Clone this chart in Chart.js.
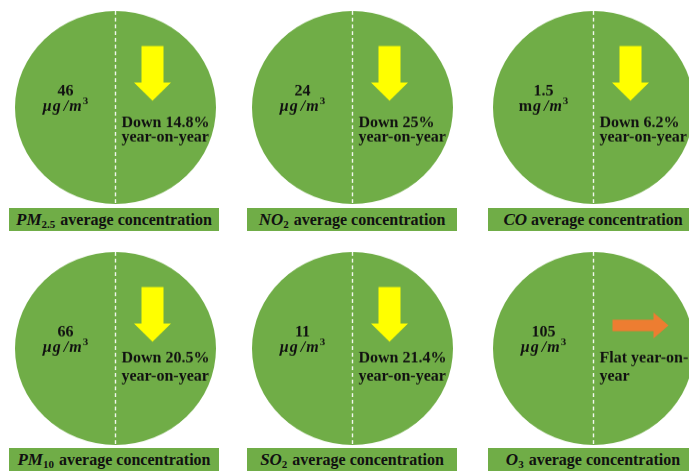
<!DOCTYPE html>
<html>
<head>
<meta charset="utf-8">
<script src="https://cdn.jsdelivr.net/npm/chart.js@4/dist/chart.umd.min.js"></script>
<style>
  html, body { margin:0; padding:0; background:#fff; }
  #stage { position:relative; width:689px; height:474px; overflow:hidden; background:#fff; }
  .cell { position:absolute; width:201px; height:201px; transform-origin:0 0; transform:scaleY(0.96); }
  .cell canvas { display:block; }
  .bar { position:absolute; width:210px; height:23px; background:#70AD47; color:#111;
         font-family:"Liberation Serif","Times New Roman",serif; font-weight:bold; font-size:16px;
         text-align:center; line-height:23px; white-space:nowrap; }
  .bar i { font-style:italic; font-size:17px; }
  .bar sub { font-size:11px; vertical-align:-3px; line-height:0; margin-right:1px; }
</style>
</head>
<body>
<div id="stage"></div>
<script>
// ---- data ----
const pollutantNames = ['PM', 'NO', 'CO', 'PM', 'SO', 'O'];
const pollutantSubs  = ['2.5', '2', '', '10', '2', '3'];
const concentrations = [46, 24, 1.5, 66, 11, 105];
const unitPrefixes   = ['μ', 'μ', 'm', 'μ', 'μ', 'μ'];   // μg/m³ or mg/m³
const yoyChanges     = [-14.8, -25, -6.2, -20.5, -21.4, 0]; // % year-on-year
const barSuffix = ' average concentration';

// ---- layout (not data) ----
const colLefts = [15, 252, 493];
const rowTops = [11, 252];
const barLefts = [9, 247, 488];
const barTops = [208, 448];
const rowTextOffsets = [[16.5, 31], [10.5, 29]];

const stage = document.getElementById('stage');
const GREEN = '#70AD47';
const FONT = '"Liberation Serif","Times New Roman",serif';

const panelPlugin = {
  id: 'panel',
  afterDraw(chart, args, opts) {
    const arc = chart.getDatasetMeta(0).data[0];
    const cx = arc.x, cy = arc.y, r = arc.outerRadius;
    const ctx = chart.ctx;
    const i = opts.index;
    ctx.save();
    // dashed divider
    ctx.strokeStyle = 'rgba(255,255,255,0.9)';
    ctx.lineWidth = 1.4;
    ctx.setLineDash([4, 3]);
    ctx.beginPath();
    ctx.moveTo(cx, cy - r);
    ctx.lineTo(cx, cy + r);
    ctx.stroke();
    ctx.setLineDash([]);

    // left: value + unit
    ctx.fillStyle = '#111';
    ctx.textAlign = 'center';
    ctx.textBaseline = 'middle';
    ctx.font = 'bold 16px ' + FONT;
    ctx.fillText(String(concentrations[i]), cx - 50, cy - 16.5);
    // unit pieces
    const pre = unitPrefixes[i];
    const preFont = (pre === 'm' ? 'bold 16px ' : 'italic bold 16px ') + FONT;
    const itFont = 'italic bold 16px ' + FONT;
    const supFont = 'bold 11px ' + FONT;
    const pieces = [
      [pre, preFont, 1], ['g', itFont, 3], ['/', itFont, 1], ['m', itFont, 1], ['3', supFont, 0]
    ];
    let total = 0;
    pieces.forEach(p => { ctx.font = p[1]; total += ctx.measureText(p[0]).width + p[2]; });
    let x = cx - 50 - total / 2;
    const uy = cy - 1;
    ctx.textAlign = 'left';
    pieces.forEach((p, k) => {
      ctx.font = p[1];
      ctx.fillText(p[0], x, k === 4 ? uy - 5 : uy);
      x += ctx.measureText(p[0]).width + p[2];
    });

    // right: arrow + text
    const ch = yoyChanges[i];
    if (ch < 0) {
      const ax = cx + 37;
      ctx.fillStyle = '#FFFF00';
      ctx.beginPath();
      ctx.moveTo(ax - 11, cy - 64);
      ctx.lineTo(ax + 11, cy - 64);
      ctx.lineTo(ax + 11, cy - 26);
      ctx.lineTo(ax + 18.5, cy - 26);
      ctx.lineTo(ax, cy - 7);
      ctx.lineTo(ax - 18.5, cy - 26);
      ctx.lineTo(ax - 11, cy - 26);
      ctx.closePath();
      ctx.fill();
    } else {
      const ay = cy - 24;
      ctx.fillStyle = '#ED7D31';
      ctx.beginPath();
      ctx.moveTo(cx + 19, ay - 6);
      ctx.lineTo(cx + 60, ay - 6);
      ctx.lineTo(cx + 60, ay - 13.5);
      ctx.lineTo(cx + 75, ay);
      ctx.lineTo(cx + 60, ay + 13.5);
      ctx.lineTo(cx + 60, ay + 6);
      ctx.lineTo(cx + 19, ay + 6);
      ctx.closePath();
      ctx.fill();
    }
    const off = rowTextOffsets[Math.floor(i / 3)];
    const line1 = ch < 0 ? 'Down ' + Math.abs(ch) + '%' : 'Flat year-on-';
    const line2 = ch < 0 ? 'year-on-year' : 'year';
    ctx.fillStyle = '#111';
    ctx.font = 'bold 16px ' + FONT;
    ctx.textAlign = 'left';
    ctx.fillText(line1, cx + 6, cy + off[0]);
    ctx.fillText(line2, cx + 6, cy + off[1]);
    ctx.restore();
  }
};

pollutantNames.forEach((name, i) => {
  const col = i % 3, row = Math.floor(i / 3);
  const cell = document.createElement('div');
  cell.className = 'cell';
  cell.style.left = colLefts[col] + 'px';
  cell.style.top = rowTops[row] + 'px';
  const cv = document.createElement('canvas');
  cv.width = 201; cv.height = 201;
  cell.appendChild(cv);
  stage.appendChild(cell);

  const bar = document.createElement('div');
  bar.className = 'bar';
  bar.style.left = barLefts[col] + 'px';
  bar.style.top = barTops[row] + 'px';
  bar.innerHTML = '<i>' + name + '</i>' + (pollutantSubs[i] ? '<sub>' + pollutantSubs[i] + '</sub>' : '') + barSuffix;
  stage.appendChild(bar);

  new Chart(cv, {
    type: 'pie',
    data: {
      labels: [name + pollutantSubs[i]],
      datasets: [{ data: [concentrations[i]], backgroundColor: [GREEN], borderWidth: 0 }]
    },
    options: {
      responsive: false,
      animation: false,
      events: [],
      layout: { padding: 0 },
      plugins: { legend: { display: false }, tooltip: { enabled: false }, panel: { index: i } }
    },
    plugins: [panelPlugin]
  });
});
</script>
</body>
</html>
